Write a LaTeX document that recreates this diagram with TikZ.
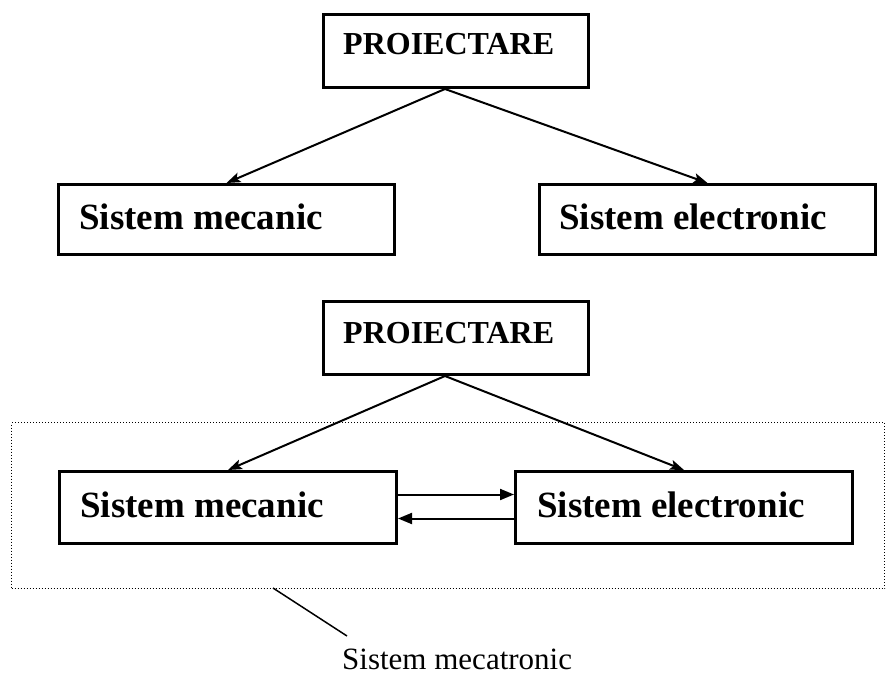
\documentclass[tikz,border=0pt]{standalone}
\usepackage{fontspec}
\setmainfont{Liberation Serif}
\usetikzlibrary{arrows.meta}
\begin{document}
\begin{tikzpicture}[x=1pt,y=-1pt,
  box/.style={draw,line width=3pt,rectangle,inner sep=0pt,anchor=north west},
  title/.style={font=\fontsize{32}{38}\selectfont\bfseries,anchor=base west,inner sep=0pt},
  label/.style={font=\fontsize{37}{44}\selectfont\bfseries,anchor=base west,inner sep=0pt},
  arr/.style={line width=2pt,-{Stealth[length=14pt,width=10pt,inset=3pt]}},
  harr/.style={line width=2pt,-{Triangle[length=14pt,width=11pt]}}]
\useasboundingbox (0,0) rectangle (889,677);

% upper diagram: design splits into two separate systems
\node[box,minimum width=265pt,minimum height=73pt] (p1) at (322,13) {};
\node[title] (p1t) at (343,55) {PROIECTARE};
\node[box,minimum width=336pt,minimum height=70pt] (m1) at (57,183) {};
\node[label] (m1t) at (79,229) {Sistem mecanic};
\node[box,minimum width=336pt,minimum height=70pt] (e1) at (538,183) {};
\node[label] (e1t) at (559,229) {Sistem electronic};
\draw[arr] ([xshift=-11pt]p1.south) -- (m1.north);
\draw[arr] ([xshift=-11pt]p1.south) -- (e1.north);

% lower diagram: the two systems coupled inside one mechatronic system
\node[box,minimum width=265pt,minimum height=73pt] (p2) at (322,300) {};
\node[title] (p2t) at (343,343) {PROIECTARE};
\node[draw,dotted,line width=1pt,rectangle,inner sep=0pt,anchor=north west,
  minimum width=873pt,minimum height=166pt] (frame) at (11,422) {};
\node[box,minimum width=337pt,minimum height=72pt] (m2) at (58,470) {};
\node[label] (m2t) at (80,517) {Sistem mecanic};
\node[box,minimum width=337pt,minimum height=72pt] (e2) at (514,470) {};
\node[label] (e2t) at (537,517) {Sistem electronic};
\draw[arr] ([xshift=-11pt]p2.south) -- (m2.north);
\draw[arr] ([xshift=-11pt]p2.south) -- (e2.north);
\draw[harr] ([yshift=13pt]m2.east) -- ([yshift=13pt]e2.west);
\draw[harr] ([yshift=-11pt]e2.west) -- ([yshift=-11pt]m2.east);

% pointer to the caption
\coordinate (lp) at (273,588);
\coordinate (lq) at (347,636);
\draw[line width=1.5pt] (lp) -- (lq);
\node[font=\fontsize{31}{37}\selectfont,anchor=base west,inner sep=0pt] (cap) at (342,669) {Sistem mecatronic};
\end{tikzpicture}
\end{document}
